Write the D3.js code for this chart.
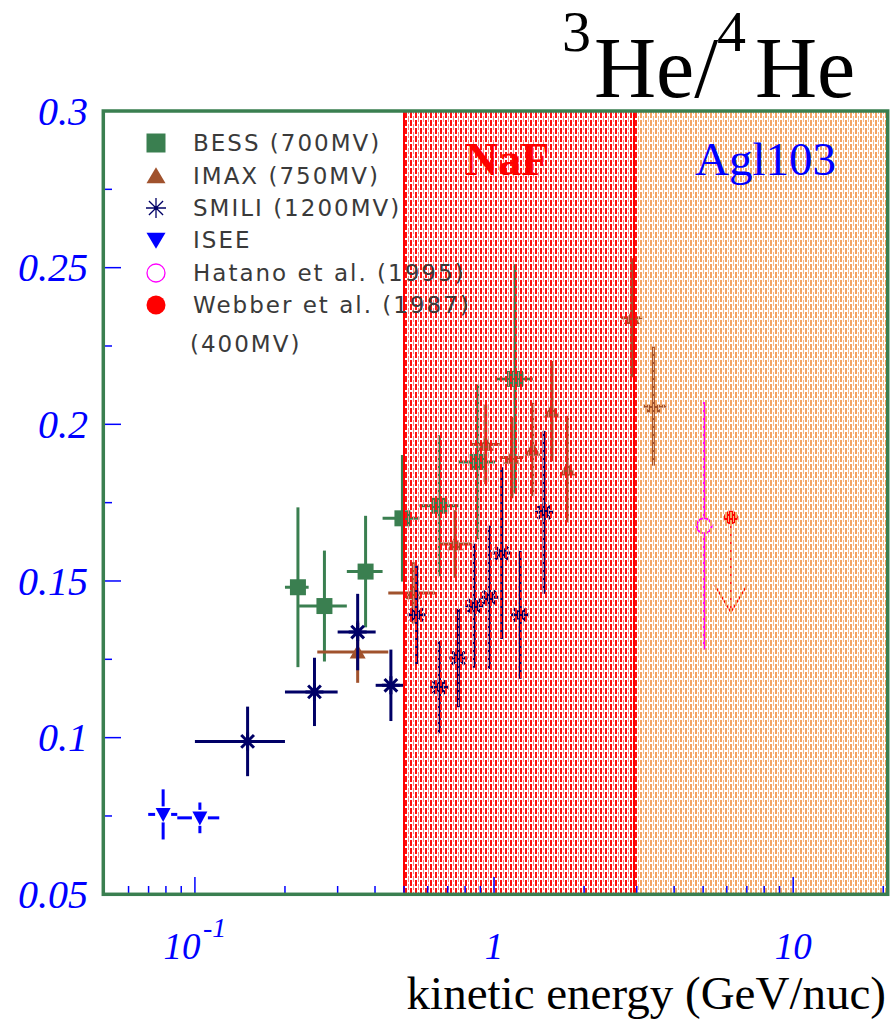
<!DOCTYPE html>
<meta charset="utf-8">
<style>
  body { margin: 0; background: #fff; }
  text { font-family: "Liberation Serif", "Times New Roman", serif; }
  .leg { font-family: "DejaVu Sans", sans-serif; font-size: 23px; fill: #3a3a3a; letter-spacing: 2px; }
</style>
<script src="https://d3js.org/d3.v7.min.js"></script>

<body>
<div id="chart"></div>

<script>

// BESS (700MV)
var bessE   = [0.221, 0.271, 0.372, 0.494, 0.656, 0.882, 1.175];
var bessLo  = [0.200, 0.223, 0.322, 0.424, 0.563, 0.760, 1.008];
var bessHi  = [0.240, 0.322, 0.424, 0.563, 0.760, 1.008, 1.347];
var bessR   = [0.148, 0.142, 0.153, 0.170, 0.174, 0.188, 0.2145];
var bessErr = [0.0255, 0.0177, 0.0178, 0.0202, 0.0225, 0.0247, 0.0366];

// IMAX (750MV)
var imaxE   = [0.350, 0.537, 0.741, 0.938, 1.146, 1.347, 1.56, 1.759, 2.887, 3.41];
var imaxLo  = [0.2565, 0.443, 0.652, 0.842, 1.045, 1.347, 1.56, 1.759, 2.66, 3.16];
var imaxHi  = [0.443, 0.635, 0.842, 1.045, 1.25, 1.347, 1.56, 1.759, 3.13, 3.77];
var imaxR   = [0.1273, 0.1462, 0.1618, 0.1936, 0.1894, 0.192, 0.2042, 0.1857, 0.234, 0.2058];
var imaxErr = [0.0098, 0.0098, 0.0108, 0.0127, 0.013, 0.0149, 0.016, 0.017, 0.019, 0.019];

// SMILI (1200MV)
var smiliE   = [0.150, 0.251, 0.350, 0.452, 0.551, 0.656, 0.760, 0.859, 0.964, 1.061, 1.222, 1.470];
var smiliLo  = [0.100, 0.200, 0.300, 0.402, 0.551, 0.656, 0.760, 0.859, 0.964, 1.061, 1.222, 1.470];
var smiliHi  = [0.200, 0.300, 0.402, 0.500, 0.551, 0.656, 0.760, 0.859, 0.964, 1.061, 1.222, 1.470];
var smiliR   = [0.0988, 0.1146, 0.1337, 0.1167, 0.1392, 0.1161, 0.1254, 0.1421, 0.1448, 0.1589, 0.1392, 0.1719];
var smiliErr = [0.0111, 0.0109, 0.0122, 0.0114, 0.0157, 0.0147, 0.0157, 0.0198, 0.0229, 0.0274, 0.0204, 0.026];

// ISEE
var iseeE   = [0.0783, 0.1039];
var iseeLo  = [0.0698, 0.0873];
var iseeHi  = [0.0873, 0.1206];
var iseeR   = [0.0755, 0.0744];
var iseeErr = [0.008, 0.0049];

// Hatano et al. (1995)
var hatanoE   = [5.04];
var hatanoR   = [0.1676];
var hatanoErr = [0.0395];

// Webber et al. (1987), upper limit
var webberE     = [6.19];
var webberR     = [0.1703];
var webberLimit = [0.140];

// detector bands
var bandNames = ["NaF", "Agl103"];
var bandLo    = [0.5, 3.0];
var bandHi    = [3.0, 20.7];
var bandEdges = [0.5, 2.93];

// axes
var xDomain     = [0.0494, 20.7];
var yDomain     = [0.05, 0.3];
var yMajor      = [0.05, 0.1, 0.15, 0.2, 0.25, 0.3];
var yMajorText  = ["0.05", "0.1", "0.15", "0.2", "0.25", "0.3"];
var yMinor      = [0.075, 0.125, 0.175, 0.225, 0.275];
var xMajor      = [0.1, 1, 10];
var xMajorBase  = ["10", "1", "10"];
var xMajorExp   = ["-1", "", ""];
var xMinor      = [0.06, 0.07, 0.08, 0.09, 0.2, 0.3, 0.4, 0.5, 0.6, 0.7, 0.8, 0.9,
                   2, 3, 4, 5, 6, 7, 8, 9, 20];

var legendText = ["BESS (700MV)", "IMAX (750MV)", "SMILI (1200MV)", "ISEE",
                  "Hatano et al. (1995)", "Webber et al. (1987)"];

var width = 892,
    height = 1019;

var green = "#3a7f50", brown = "#a0522d", navy = "#000066", blue = "#0000ff";

var svg = d3.select("#chart")
  .append("svg")
    .attr("width", width)
    .attr("height", height);

var x = d3.scaleLog().domain(xDomain).range([103.3, 887.7]);
var y = d3.scaleLinear().domain(yDomain).range([894.3, 111]);

// hatch patterns for the bands
var defs = svg.append("defs");
var pNaf = defs.append("pattern").attr("id", "naf")
  .attr("width", 5).attr("height", 8).attr("patternUnits", "userSpaceOnUse");
pNaf.append("rect").attr("x", 0).attr("y", 0).attr("width", 2).attr("height", 6).attr("fill", "#ff1010");
pNaf.append("rect").attr("x", 3).attr("y", 4).attr("width", 1).attr("height", 6).attr("fill", "#ff7a7a");
pNaf.append("rect").attr("x", 3).attr("y", -4).attr("width", 1).attr("height", 6).attr("fill", "#ff7a7a");

var pAgl = defs.append("pattern").attr("id", "agl")
  .attr("width", 5).attr("height", 8).attr("patternUnits", "userSpaceOnUse");
pAgl.append("rect").attr("x", 0).attr("y", 0).attr("width", 2).attr("height", 6).attr("fill", "#f3a463");
pAgl.append("rect").attr("x", 3).attr("y", 4).attr("width", 1).attr("height", 6).attr("fill", "#f6b885");
pAgl.append("rect").attr("x", 3).attr("y", -4).attr("width", 1).attr("height", 6).attr("fill", "#f6b885");

// ---- markers
function square(s) { return "M" + (-s/2) + "," + (-s/2) + "h" + s + "v" + s + "h" + (-s) + "Z"; }
function triUp(w, h) { return "M" + (-w/2) + "," + (h*0.45) + "L" + (w/2) + "," + (h*0.45) + "L0," + (-h*0.55) + "Z"; }
function triDown(w, h) { return "M" + (-w/2) + "," + (-h*0.45) + "L" + (w/2) + "," + (-h*0.45) + "L0," + (h*0.55) + "Z"; }
function star(r) {
  var d = "", k = r * Math.SQRT1_2;
  d += "M" + (-r) + ",0L" + r + ",0";
  d += "M0," + (-r) + "L0," + r;
  d += "M" + (-k) + "," + (-k) + "L" + k + "," + k;
  d += "M" + (-k) + "," + k + "L" + k + "," + (-k);
  return d;
}

var data = svg.append("g").attr("class", "data");

function errorBars(E, lo, hi, R, err, color, gap) {
  var g = data.append("g");
  E.forEach(function(e, i) {
    var cx = x(e), cy = y(R[i]);
    var top = y(R[i] + err[i]), bot = y(R[i] - err[i]);
    var l = x(lo[i]), r = x(hi[i]);
    var segs = [];
    if (gap > 0) {
      segs.push([cx, top, cx, cy - gap], [cx, cy + gap, cx, bot]);
      if (r - l > 1) segs.push([l, cy, cx - gap, cy], [cx + gap, cy, r, cy]);
    } else {
      segs.push([cx, top, cx, bot]);
      if (r - l > 1) segs.push([l, cy, r, cy]);
    }
    segs.forEach(function(s) {
      g.append("line")
        .attr("x1", s[0]).attr("y1", s[1]).attr("x2", s[2]).attr("y2", s[3])
        .attr("stroke", color).attr("stroke-width", 3);
    });
  });
  return g;
}

// BESS
errorBars(bessE, bessLo, bessHi, bessR, bessErr, green, 0);
data.selectAll(".bess").data(bessE).enter().append("path")
  .attr("transform", function(d, i) { return "translate(" + x(d) + "," + y(bessR[i]) + ")"; })
  .attr("d", square(16)).attr("fill", green);

// IMAX
errorBars(imaxE, imaxLo, imaxHi, imaxR, imaxErr, brown, 0);
data.selectAll(".imax").data(imaxE).enter().append("path")
  .attr("transform", function(d, i) { return "translate(" + x(d) + "," + y(imaxR[i]) + ")"; })
  .attr("d", triUp(16, 14)).attr("fill", brown);

// SMILI
errorBars(smiliE, smiliLo, smiliHi, smiliR, smiliErr, navy, 0);
data.selectAll(".smili").data(smiliE).enter().append("path")
  .attr("transform", function(d, i) { return "translate(" + x(d) + "," + y(smiliR[i]) + ")"; })
  .attr("d", star(9)).attr("stroke", navy).attr("stroke-width", 3).attr("fill", "none");

// ISEE
errorBars(iseeE, iseeLo, iseeHi, iseeR, iseeErr, blue, 8);
data.selectAll(".isee").data(iseeE).enter().append("path")
  .attr("transform", function(d, i) { return "translate(" + x(d) + "," + y(iseeR[i]) + ")"; })
  .attr("d", triDown(15, 14)).attr("fill", blue);

// Hatano
hatanoE.forEach(function(e, i) {
  data.append("line")
    .attr("x1", x(e)).attr("x2", x(e))
    .attr("y1", y(hatanoR[i] + hatanoErr[i])).attr("y2", y(hatanoR[i] - hatanoErr[i]))
    .attr("stroke", "#ff00ff").attr("stroke-width", 2.5);
  data.append("circle")
    .attr("cx", x(e)).attr("cy", y(hatanoR[i])).attr("r", 7.5)
    .attr("fill", "#fff").attr("stroke", "#ff00ff").attr("stroke-width", 2);
});

// Webber upper limit
webberE.forEach(function(e, i) {
  var cx = x(e), y0 = y(webberR[i]), y1 = y(webberLimit[i]);
  data.append("line")
    .attr("x1", cx).attr("x2", cx).attr("y1", y0).attr("y2", y1)
    .attr("stroke", "#ff0000").attr("stroke-width", 1.5);
  data.append("path")
    .attr("d", "M" + (cx - 16) + "," + (y1 - 27) + "L" + cx + "," + y1 + "L" + (cx + 16) + "," + (y1 - 27))
    .attr("stroke", "#ff0000").attr("stroke-width", 1.5).attr("fill", "none");
  data.append("circle")
    .attr("cx", cx).attr("cy", y0).attr("r", 7)
    .attr("fill", "#ff0000");
});

// ---- bands drawn over the data, like the original
var bands = svg.append("g").attr("class", "bands").attr("shape-rendering", "crispEdges");
bandNames.forEach(function(name, i) {
  bands.append("rect")
    .attr("x", x(bandLo[i])).attr("y", y(yDomain[1]))
    .attr("width", x(bandHi[i]) - x(bandLo[i]))
    .attr("height", y(yDomain[0]) - y(yDomain[1]))
    .attr("fill", i == 0 ? "url(#naf)" : "url(#agl)");
});
bandEdges.forEach(function(e) {
  bands.append("line")
    .attr("x1", x(e)).attr("x2", x(e)).attr("y1", y(yDomain[1])).attr("y2", y(yDomain[0]))
    .attr("stroke", "#ff0000").attr("stroke-width", 2);
});

svg.append("text").attr("x", 465).attr("y", 175)
  .attr("font-size", 46).attr("font-weight", "bold").attr("fill", "#ff0000")
  .text(bandNames[0]);
svg.append("text").attr("x", 695).attr("y", 175)
  .attr("font-size", 47).attr("fill", "#0000ff")
  .text(bandNames[1]);

// ---- ticks
var ticks = svg.append("g").attr("stroke", blue).attr("stroke-width", 1.5);
yMajor.forEach(function(v) {
  ticks.append("line").attr("x1", 103).attr("x2", 121).attr("y1", y(v)).attr("y2", y(v));
});
yMinor.forEach(function(v) {
  ticks.append("line").attr("x1", 103).attr("x2", 112).attr("y1", y(v)).attr("y2", y(v));
});
xMajor.forEach(function(v) {
  ticks.append("line").attr("x1", x(v)).attr("x2", x(v)).attr("y1", 894).attr("y2", 877);
});
xMinor.forEach(function(v) {
  ticks.append("line").attr("x1", x(v)).attr("x2", x(v)).attr("y1", 894).attr("y2", 886);
});

// frame
svg.append("rect")
  .attr("x", x(xDomain[0])).attr("y", y(yDomain[1]))
  .attr("width", x(xDomain[1]) - x(xDomain[0]))
  .attr("height", y(yDomain[0]) - y(yDomain[1]))
  .attr("fill", "none").attr("stroke", green).attr("stroke-width", 3.5);

// tick labels
yMajor.forEach(function(v, i) {
  svg.append("text")
    .attr("x", 88).attr("y", y(v)).attr("dy", "0.34em")
    .attr("text-anchor", "end").attr("font-size", 40).attr("font-style", "italic")
    .attr("fill", blue).text(yMajorText[i]);
});
xMajor.forEach(function(v, i) {
  var t = svg.append("text")
    .attr("x", x(v) - (xMajorExp[i] ? 13 : 0)).attr("y", 959)
    .attr("text-anchor", "middle").attr("font-size", 37).attr("font-style", "italic")
    .attr("fill", blue).text(xMajorBase[i]);
  if (xMajorExp[i]) {
    svg.append("text")
      .attr("x", x(v) + 8).attr("y", 937)
      .attr("font-size", 28).attr("font-style", "italic")
      .attr("fill", blue).text(xMajorExp[i]);
  }
});

svg.append("text")
  .attr("x", 886).attr("y", 1009).attr("text-anchor", "end")
  .attr("font-size", 47).attr("fill", "#000")
  .text("kinetic energy (GeV/nuc)");

// title 3He/4He
var title = svg.append("g").attr("fill", "#000");
title.append("text").attr("x", 562).attr("y", 51).attr("font-size", 58).text("3");
title.append("text").attr("x", 594).attr("y", 97).attr("font-size", 86).text("He/");
title.append("text").attr("x", 717).attr("y", 51).attr("font-size", 58).text("4");
title.append("text").attr("x", 755).attr("y", 97).attr("font-size", 86).text("He");

// ---- legend
var legY = [143, 176, 208, 240, 273, 305];
var leg = svg.append("g");
leg.append("path").attr("transform", "translate(156," + legY[0] + ")").attr("d", square(19)).attr("fill", green);
leg.append("path").attr("transform", "translate(156," + legY[1] + ")").attr("d", triUp(19, 16)).attr("fill", brown);
leg.append("path").attr("transform", "translate(156," + legY[2] + ")").attr("d", star(10))
  .attr("stroke", navy).attr("stroke-width", 1.3).attr("fill", "none");
leg.append("circle").attr("cx", 156).attr("cy", legY[2]).attr("r", 1.8).attr("fill", navy);
leg.append("path").attr("transform", "translate(156," + legY[3] + ")").attr("d", triDown(19, 16)).attr("fill", blue);
leg.append("circle").attr("cx", 156).attr("cy", legY[4]).attr("r", 9)
  .attr("fill", "none").attr("stroke", "#ff00ff").attr("stroke-width", 1.3);
leg.append("circle").attr("cx", 156).attr("cy", legY[5]).attr("r", 9.5).attr("fill", "#ff0000");

legendText.forEach(function(t, i) {
  leg.append("text").attr("class", "leg")
    .attr("x", 193).attr("y", legY[i]).attr("dy", "0.36em").text(t);
});
leg.append("text").attr("class", "leg")
  .attr("x", 190).attr("y", 344).attr("dy", "0.36em").text("(400MV)");

</script>
</body>
